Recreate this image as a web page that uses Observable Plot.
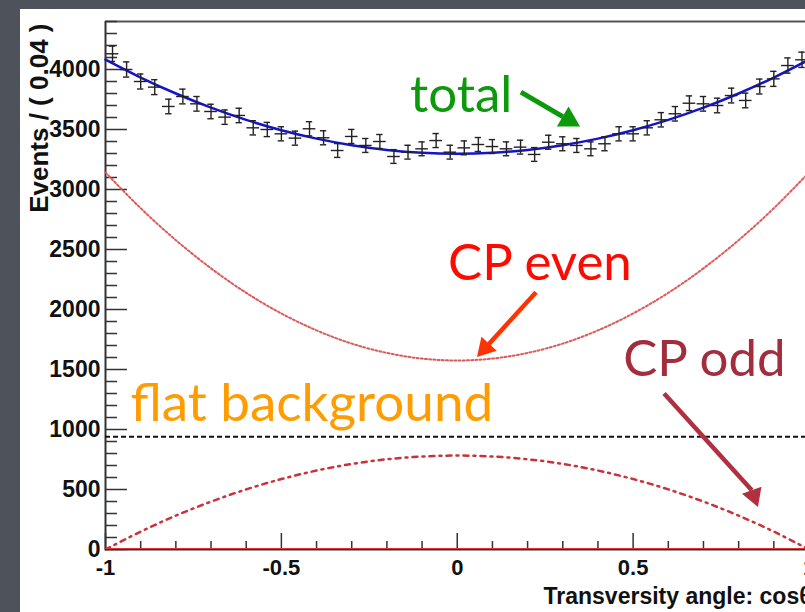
<!DOCTYPE html>
<html>
<head>
<meta charset="utf-8">
<script src="https://cdn.jsdelivr.net/npm/d3@7"></script>
<script src="https://cdn.jsdelivr.net/npm/@observablehq/plot@0.6"></script>
<style>
  html, body { margin: 0; padding: 0; width: 805px; height: 612px; overflow: hidden; background: #4e525b; }
  #chart { position: absolute; left: 20px; top: 9px; width: 785px; height: 603px; background: white; overflow: hidden; }
  #chart svg { overflow: hidden; }
</style>
</head>
<body>
<div id="chart"></div>
<script>
// ---- data ----
const binCount = 50;                 // bins of width 0.04 on [-1, 1]
const events = [4131, 4000, 3900, 3853, 3692, 3775, 3714, 3650, 3603, 3617,
                3514, 3500, 3464, 3428, 3506, 3431, 3325, 3442, 3367, 3400,
                3275, 3311, 3339, 3408, 3311, 3347, 3375, 3358, 3339, 3353,
                3292, 3394, 3381, 3367, 3339, 3381, 3464, 3464, 3514, 3581,
                3631, 3719, 3714, 3700, 3783, 3742, 3858, 3922, 4033, 4081];
const curveX = [-1, -0.9, -0.8, -0.7, -0.6, -0.5, -0.4, -0.3, -0.2, -0.1, 0,
                0.1, 0.2, 0.3, 0.4, 0.5, 0.6, 0.7, 0.8, 0.9, 1];
const cpEven = [3142, 2844, 2578, 2343, 2139, 1967, 1826, 1716, 1638, 1591, 1575,
                1591, 1638, 1716, 1826, 1967, 2139, 2343, 2578, 2844, 3142];
const cpOdd  = [0, 149, 282, 399, 501, 587, 658, 713, 752, 775, 783,
                775, 752, 713, 658, 587, 501, 399, 282, 149, 0];
const totalFit = [4082, 3933, 3800, 3682, 3580, 3494, 3424, 3369, 3330, 3306, 3298,
                  3306, 3330, 3369, 3424, 3494, 3580, 3682, 3800, 3933, 4082];
const flatLevel = 940;
const xTicks = [-1, -0.5, 0, 0.5, 1];
const yTicks = [0, 500, 1000, 1500, 2000, 2500, 3000, 3500, 4000];

// labels and arrows (data coordinates)
const labels = [
  {text: "total", x: -0.134, y: 3644, color: "#0c9a0c"},
  {text: "CP even", x: -0.026, y: 2250, color: "#ff0a00"},
  {text: "CP odd", x: 0.472, y: 1442, color: "#a32d3c"},
  {text: "flat background", x: -0.929, y: 1067, color: "#ff9c00"}
];
const arrowTotal = {x1: 0.181, y1: 3811, x2: 0.300, y2: 3608, tx: 0.349, ty: 3525};
const arrowEven  = {x1: 0.224, y1: 2144, x2: 0.090, y2: 1713, tx: 0.056, ty: 1603};
const arrowOdd   = {x1: 0.588, y1: 1300, x2: 0.8375, y2: 493, tx: 0.855, ty: 353};

// ---- derived tables ----
const binW = 2 / binCount;
const points = events.map((v, i) => {
  const c = -1 + binW * (i + 0.5);
  const e = Math.sqrt(v);
  return {c, v, lo: v - e, hi: v + e};
});
const curves = curveX.map((x, i) => ({x, even: cpEven[i], odd: cpOdd[i], total: totalFit[i]}));
const minorY = d3.range(0, 4401, 100).filter(d => d % 500 !== 0);
const minorX = d3.range(-10, 11).map(d => d / 10).filter(d => Math.abs(d * 2 - Math.round(d * 2)) > 1e-9);

const axisColor = "#333";
const capHalf = 0.009, xErrHalf = 0.018;

const chart = Plot.plot({
  width: 785, height: 603,
  marginLeft: 85, marginRight: 0, marginTop: 12, marginBottom: 63,
  x: {domain: [-1, 1], range: [85, 788.5]},
  y: {domain: [0, 4400]},
  style: {fontFamily: "Liberation Sans, Arial, sans-serif", background: "white"},
  marks: [
    // frame lines
    Plot.ruleY([4400], {stroke: "#555", strokeWidth: 2}),
    Plot.ruleX([-1], {stroke: axisColor, strokeWidth: 2}),
    // ticks (inward)
    Plot.tickY(yTicks, {y: d => d, stroke: axisColor, strokeWidth: 1.5, insetRight: 700 - 22}),
    Plot.tickY(minorY, {y: d => d, stroke: axisColor, strokeWidth: 1.5, insetRight: 700 - 12}),
    Plot.tickX(xTicks, {x: d => d, stroke: axisColor, strokeWidth: 1.5, insetTop: 528 - 16}),
    Plot.tickX(minorX, {x: d => d, stroke: axisColor, strokeWidth: 1.5, insetTop: 528 - 8}),
    // axes labels
    Plot.axisY(yTicks, {tickSize: 0, tickPadding: 5, tickFormat: d => String(d), fontSize: 23, fontWeight: "bold", fill: "#111", label: null}),
    Plot.axisX(xTicks, {tickSize: 0, tickPadding: 10, tickFormat: d => String(d), fontSize: 22, fontWeight: "bold", fill: "#111", label: null}),
    Plot.text(["Events / ( 0.04 )"], {frameAnchor: "top-left", text: d => d, rotate: -90, textAnchor: "end", lineAnchor: "bottom", dx: -58, dy: 2, fontSize: 26, fontWeight: "bold", fill: "#111"}),
    Plot.text(["Transversity angle: cos\u03b8"], {frameAnchor: "bottom-left", text: d => d, textAnchor: "start", lineAnchor: "bottom", dx: 438, dy: 54, fontSize: 23, fontWeight: "bold", fill: "#111"}),
    // components
    Plot.ruleY([flatLevel], {stroke: "#111", strokeWidth: 2, strokeDasharray: "5,3"}),
    Plot.line(curves, {x: "x", y: "even", curve: "natural", stroke: "#dc5a5a", strokeWidth: 2, strokeDasharray: "2,2.2"}),
    Plot.line(curves, {x: "x", y: "odd", curve: "natural", stroke: "#c8323a", strokeWidth: 2.5, strokeDasharray: "5,5,2,5"}),
    Plot.line(curves, {x: "x", y: "total", curve: "natural", stroke: "#1414c8", strokeWidth: 2.5}),
    // data points with error bars
    Plot.ruleX(points, {x: "c", y1: "lo", y2: "hi", stroke: "#222", strokeWidth: 1.4}),
    Plot.ruleY(points, {y: "v", x1: d => d.c - xErrHalf, x2: d => d.c + xErrHalf, stroke: "#222", strokeWidth: 1.4}),
    Plot.ruleY(points, {y: "hi", x1: d => d.c - capHalf, x2: d => d.c + capHalf, stroke: "#222", strokeWidth: 1.4}),
    Plot.ruleY(points, {y: "lo", x1: d => d.c - capHalf, x2: d => d.c + capHalf, stroke: "#222", strokeWidth: 1.4}),
    // bottom axis line
    Plot.ruleY([0], {stroke: axisColor, strokeWidth: 2}),
    Plot.ruleY([0], {stroke: "#e03030", strokeWidth: 1, dy: -1}),
    // annotations
    Plot.text(labels, {x: "x", y: "y", text: "text", fill: "color", textAnchor: "start", lineAnchor: "bottom", fontFamily: "Lato, 'Open Sans', sans-serif", fontSize: d => d.text === "flat background" ? 53 : 51}),
    Plot.link([arrowTotal], {x1: "x1", y1: "y1", x2: "x2", y2: "y2", stroke: "#0c9a0c", strokeWidth: 5}),
    Plot.dot([arrowTotal], {x: "tx", y: "ty", symbol: "triangle", r: 8.6, fill: "#0c9a0c", rotate: 120, dx: -11.5, dy: -6.7}),
    Plot.link([arrowEven], {x1: "x1", y1: "y1", x2: "x2", y2: "y2", stroke: "#ff3300", strokeWidth: 4.5}),
    Plot.dot([arrowEven], {x: "tx", y: "ty", symbol: "triangle", r: 7.7, fill: "#ff3300", rotate: 222.4, dx: 8.1, dy: -8.9}),
    Plot.link([arrowOdd], {x1: "x1", y1: "y1", x2: "x2", y2: "y2", stroke: "#b03040", strokeWidth: 4.5}),
    Plot.dot([arrowOdd], {x: "tx", y: "ty", symbol: "triangle", r: 7.7, fill: "#b03040", rotate: 159.7, dx: -4.2, dy: -11.3})
  ]
});
document.getElementById("chart").appendChild(chart);
</script>
</body>
</html>
